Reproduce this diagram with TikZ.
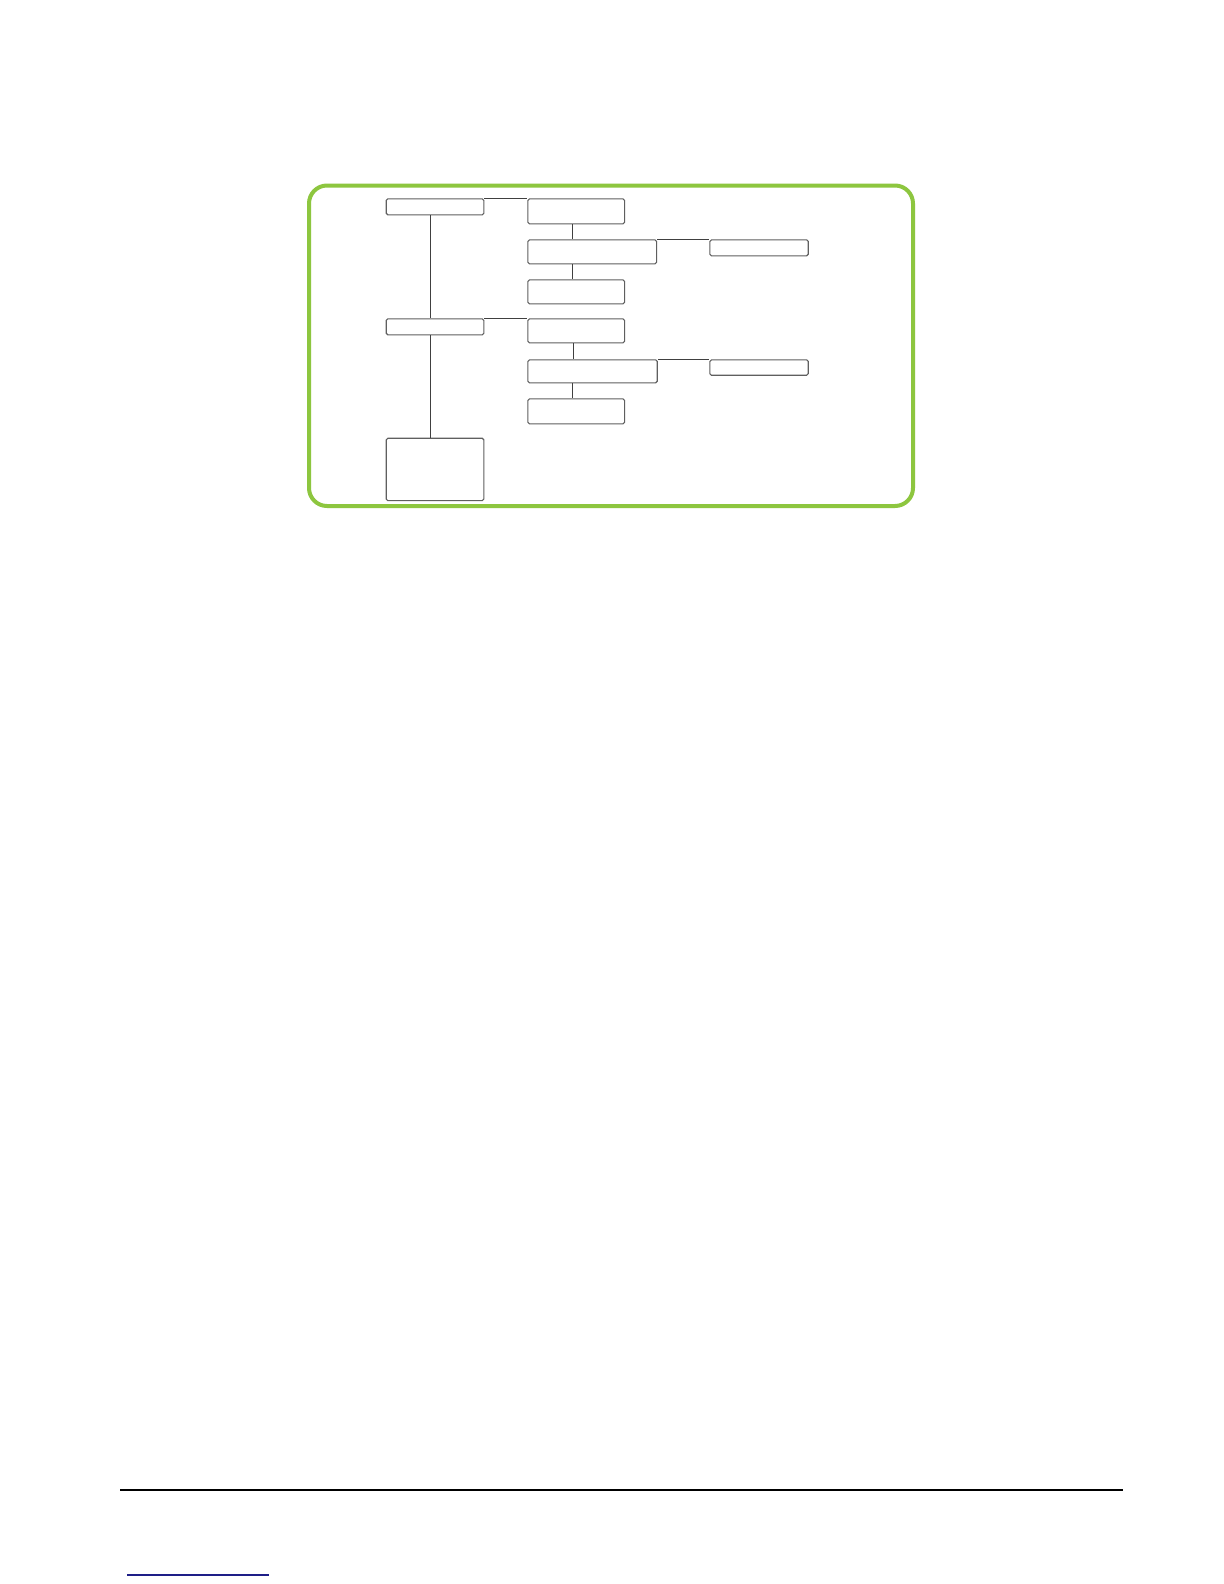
\documentclass[tikz,border=0pt]{standalone}
\usetikzlibrary{calc}
\definecolor{framegreen}{RGB}{141,198,63}
\definecolor{boxline}{RGB}{95,95,95}
\definecolor{linkblue}{RGB}{30,30,135}
\begin{document}
\begin{tikzpicture}[x=0.5pt,y=-0.5pt,
  box/.style={draw=boxline,line width=0.55pt,rounded corners=0.8pt,anchor=north west,inner sep=0pt,fill=white},
  conn/.style={draw=black!75,line width=0.55pt}]
\useasboundingbox (0,0) rectangle (1224,1584);
\fill[white] (0,0) rectangle (1224,1584);
% green frame
\draw[framegreen,line width=2pt,rounded corners=9pt] (309,185.5) rectangle (913,506);
% boxes
\node[box,minimum width=48.8pt,minimum height=8pt]  (A1) at (385.7,198.3) {};
\node[box,minimum width=48.35pt,minimum height=12.5pt] (B1) at (527.3,198.3) {};
\node[box,minimum width=64.35pt,minimum height=12pt] (C1) at (527.3,239.3) {};
\node[box,minimum width=49.2pt,minimum height=8pt]  (D1) at (709.3,239.3) {};
\node[box,minimum width=48.35pt,minimum height=12pt] (E1) at (527.3,279.3) {};
\node[box,minimum width=48.8pt,minimum height=8pt]  (A2) at (385.7,318.3) {};
\node[box,minimum width=48.35pt,minimum height=12pt] (B2) at (527.3,318.3) {};
\node[box,minimum width=64.7pt,minimum height=11.5pt] (C2) at (527.3,359.3) {};
\node[box,minimum width=49.2pt,minimum height=7.7pt] (D2) at (709.3,359.3) {};
\node[box,minimum width=48.35pt,minimum height=12.5pt] (E2) at (527.3,398.3) {};
\node[box,minimum width=48.8pt,minimum height=31.2pt] (A3) at (385.7,437.7) {};
% connectors
\draw[conn] (A1.north east) -- (B1.north west);
\draw[conn] (A2.north east) -- (B2.north west);
\draw[conn] (C1.north east) -- (D1.north west);
\draw[conn] (C2.north east) -- (D2.north west);
\draw[conn] ([xshift=22.3pt]A1.south west) -- ([xshift=22.3pt]A1.south west |- A2.north);
\draw[conn] ([xshift=22.3pt]A2.south west) -- ([xshift=22.3pt]A2.south west |- A3.north);
\draw[conn] ([xshift=22.7pt]B1.south west) -- ([xshift=22.7pt]B1.south west |- C1.north);
\draw[conn] ([xshift=22.7pt]C1.south west) -- ([xshift=22.7pt]C1.south west |- E1.north);
\draw[conn] ([xshift=23pt]B2.south west) -- ([xshift=23pt]B2.south west |- C2.north);
\draw[conn] ([xshift=22.7pt]C2.south west) -- ([xshift=22.7pt]C2.south west |- E2.north);
% footer rule and link underline
\draw[black,line width=0.65pt] (120,1490) -- (1123,1490);
\draw[linkblue,line width=0.6pt] (127,1575) -- (269,1575);
\end{tikzpicture}
\end{document}
